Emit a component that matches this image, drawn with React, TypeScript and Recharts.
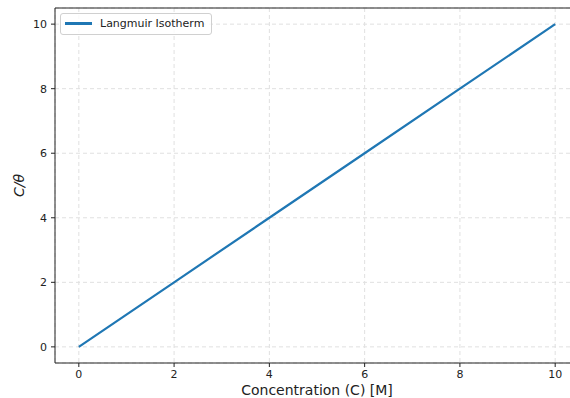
import React from 'react';
import { LineChart, Line, XAxis, YAxis, CartesianGrid, ReferenceLine } from 'recharts';

const concentration = [0, 2, 4, 6, 8, 10];
const cOverTheta = [0, 2, 4, 6, 8, 10];
const tickValues = [0, 2, 4, 6, 8, 10];

const data = concentration.map((c, i) => ({ c, ratio: cOverTheta[i] }));

const font = 'DejaVu Sans, sans-serif';
const blue = '#1f77b4';

const LegendBox = () => (
  <div
    style={{
      position: 'absolute',
      left: 60,
      top: 13,
      border: '1px solid #d0d0d0',
      borderRadius: 3,
      background: 'rgba(255,255,255,0.8)',
      padding: '3px 7px 4px 4px',
      display: 'flex',
      alignItems: 'center',
      fontFamily: font,
      fontSize: 11,
      color: '#222',
    }}
  >
    <span style={{ display: 'inline-block', width: 27, height: 2.5, background: blue, marginRight: 8 }} />
    <span>Langmuir Isotherm</span>
  </div>
);

// rotated y label, centred on the plot height like matplotlib
const YLabel = (props: any) => {
  const vb = props.viewBox || { y: 8, height: 355 };
  const cx = 19;
  const cy = vb.y + vb.height / 2;
  return (
    <text
      x={cx}
      y={cy}
      transform={`rotate(-90, ${cx}, ${cy})`}
      textAnchor="middle"
      dominantBaseline="central"
      fill="#222"
      fontSize={14}
      fontFamily={font}
      fontStyle="italic"
    >
      C/θ
    </text>
  );
};

export default function App() {
  return (
    <div style={{ position: 'absolute', left: 0, top: 0, width: 570, height: 398, overflow: 'hidden', background: '#fff' }}>
      <LineChart width={570} height={398} data={data} margin={{ top: 8, right: -9, left: 0, bottom: 0 }} style={{ overflow: 'hidden' }}>
        <CartesianGrid stroke="#e0e0e0" strokeDasharray="4 3" horizontal vertical />
        <XAxis
          dataKey="c"
          type="number"
          domain={[-0.5, 10.5]}
          ticks={tickValues}
          allowDataOverflow
          height={35}
          tickSize={4}
          tickMargin={3}
          stroke="#222"
          tick={{ fill: '#222', fontSize: 11, fontFamily: font }}
          label={{ value: 'Concentration (C) [M]', position: 'insideBottom', offset: 3, fill: '#222', fontSize: 14, fontFamily: font }}
        />
        <YAxis
          type="number"
          domain={[-0.5, 10.5]}
          ticks={tickValues}
          allowDataOverflow
          width={55}
          tickSize={4}
          tickMargin={4}
          stroke="#222"
          tick={{ fill: '#222', fontSize: 11, fontFamily: font }}
          label={<YLabel />}
        />
        <ReferenceLine y={10.5} stroke="#222" strokeWidth={1} />
        <Line
          type="linear"
          dataKey="ratio"
          stroke={blue}
          strokeWidth={2.2}
          dot={false}
          isAnimationActive={false}
        />
      </LineChart>
      <LegendBox />
    </div>
  );
}
